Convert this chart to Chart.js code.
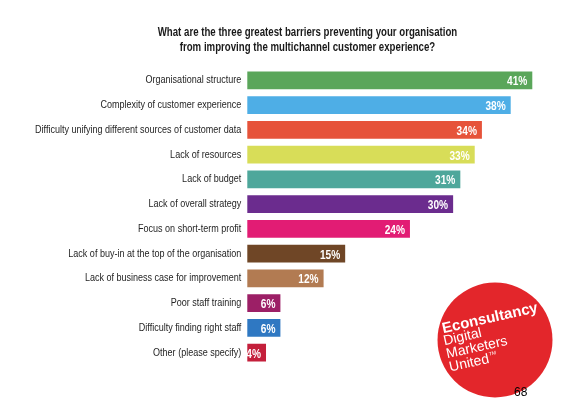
<!DOCTYPE html>
<html>
<head>
<meta charset="utf-8">
<script src="https://cdn.jsdelivr.net/npm/chart.js@4/dist/chart.umd.min.js"></script>
<style>
html,body{margin:0;padding:0;background:#fff;}
#wrap{width:569px;height:412px;position:relative;}
</style>
</head>
<body>
<div id="wrap"><canvas id="c" width="569" height="412"></canvas></div>
<script>
const titleLines = [
  "What are the three greatest barriers preventing your organisation",
  "from improving the multichannel customer experience?"
];
const categories = [
  "Organisational structure",
  "Complexity of customer experience",
  "Difficulty unifying different sources of customer data",
  "Lack of resources",
  "Lack of budget",
  "Lack of overall strategy",
  "Focus on short-term profit",
  "Lack of buy-in at the top of the organisation",
  "Lack of business case for improvement",
  "Poor staff training",
  "Difficulty finding right staff",
  "Other (please specify)"
];
const values = [41, 38, 34, 33, 31, 30, 24, 15, 12, 6, 6, 4];
const barColors = [
  "#5aa65a", "#4eaee6", "#e6533a", "#d8dd58", "#4ea79b", "#6b2c8e",
  "#e21c74", "#6f4626", "#b27b52", "#9c1f66", "#2f78c2", "#c41f3b"
];
const logoLines = ["Digital", "Marketers", "United"];
const pageNumber = "68";

const FONT = "'Liberation Sans', Arial, sans-serif";
// the original typeface is a compressed gothic; text is narrowed horizontally
const TICK_SX = 0.82;
const TITLE_SX = 0.805;
const VALUE_SX = 0.78;
const TITLE_SHIFT = 23;

function condensed(ctx, ax, sx, fn) {
  ctx.save();
  ctx.translate(ax, 0);
  ctx.scale(sx, 1);
  ctx.translate(-ax, 0);
  fn();
  ctx.restore();
}

const condenseText = {
  id: 'condenseText',
  beforeDraw(chart) {
    const y = chart.scales.y;
    if (!y._condensed) {
      const orig = y.drawLabels;
      y._computeLabelArea = () => undefined;
      y.drawLabels = function (area) {
        const ax = this.right - this.options.ticks.padding;
        condensed(this.ctx, ax, TICK_SX, () => orig.call(this, area));
      };
      y._condensed = true;
    }
    const t = chart.titleBlock;
    if (t && !t._condensed) {
      const origT = t.draw;
      t.draw = function () {
        const ctx = this.ctx;
        const ax = (this.left + this.right) / 2;
        ctx.save();
        ctx.translate(TITLE_SHIFT, 0);
        condensed(ctx, ax, TITLE_SX, () => origT.call(this));
        ctx.restore();
      };
      t._condensed = true;
    }
  }
};

const valueLabels = {
  id: 'valueLabels',
  afterDatasetsDraw(chart) {
    const ctx = chart.ctx;
    const meta = chart.getDatasetMeta(0);
    ctx.save();
    ctx.font = "bold 13px " + FONT;
    ctx.fillStyle = "#ffffff";
    ctx.textAlign = "right";
    ctx.textBaseline = "middle";
    meta.data.forEach((bar, i) => {
      const ax = bar.x - 5;
      condensed(ctx, ax, VALUE_SX, () => ctx.fillText(values[i] + "%", ax, bar.y + 1.5));
    });
    ctx.restore();
  }
};

const logo = {
  id: 'logo',
  afterDraw(chart) {
    const ctx = chart.ctx;
    ctx.save();
    ctx.beginPath();
    ctx.arc(495, 340, 57.5, 0, Math.PI * 2);
    ctx.fillStyle = "#e3262b";
    ctx.fill();
    ctx.translate(495, 340);
    ctx.rotate(-0.22);
    ctx.fillStyle = "#ffffff";
    ctx.textAlign = "left";
    ctx.textBaseline = "alphabetic";
    ctx.font = "bold 15px 'Liberation Sans', sans-serif";
    ctx.fillText("Econsultancy", -49, -18);
    ctx.font = "14px 'Liberation Sans', sans-serif";
    logoLines.forEach((s, i) => ctx.fillText(s, -50.5, -6 + i * 13.5));
    const w = ctx.measureText(logoLines[2]).width;
    ctx.font = "5px 'Liberation Sans', sans-serif";
    ctx.fillText("TM", -50.5 + w + 1, 14);
    ctx.restore();
    ctx.save();
    ctx.fillStyle = "#000000";
    ctx.font = "12px 'Liberation Sans', sans-serif";
    ctx.textAlign = "left";
    ctx.textBaseline = "middle";
    ctx.fillText(pageNumber, 514, 393);
    ctx.restore();
  }
};

new Chart(document.getElementById('c'), {
  type: 'bar',
  data: {
    labels: categories,
    datasets: [{
      data: values,
      backgroundColor: barColors,
      borderWidth: 0,
      barPercentage: 0.71,
      categoryPercentage: 1.0
    }]
  },
  options: {
    indexAxis: 'y',
    responsive: false,
    animation: false,
    layout: { padding: { left: 0, right: 0, top: 0, bottom: 47 } },
    plugins: {
      legend: { display: false },
      tooltip: { enabled: false },
      title: {
        display: true,
        text: titleLines,
        color: "#1a1a1a",
        font: { family: FONT, size: 12, weight: 'bold', lineHeight: 1.25 },
        padding: { top: 25.5, bottom: 12.5 }
      }
    },
    scales: {
      x: {
        display: false,
        min: 1.4,
        max: 46.1
      },
      y: {
        grid: { display: false, drawTicks: false },
        border: { display: false },
        ticks: {
          color: "#252525",
          padding: 6,
          font: { family: FONT, size: 11 }
        },
        afterFit(scale) { scale.width = 247.3; }
      }
    }
  },
  plugins: [condenseText, valueLabels, logo]
});
</script>
</body>
</html>
